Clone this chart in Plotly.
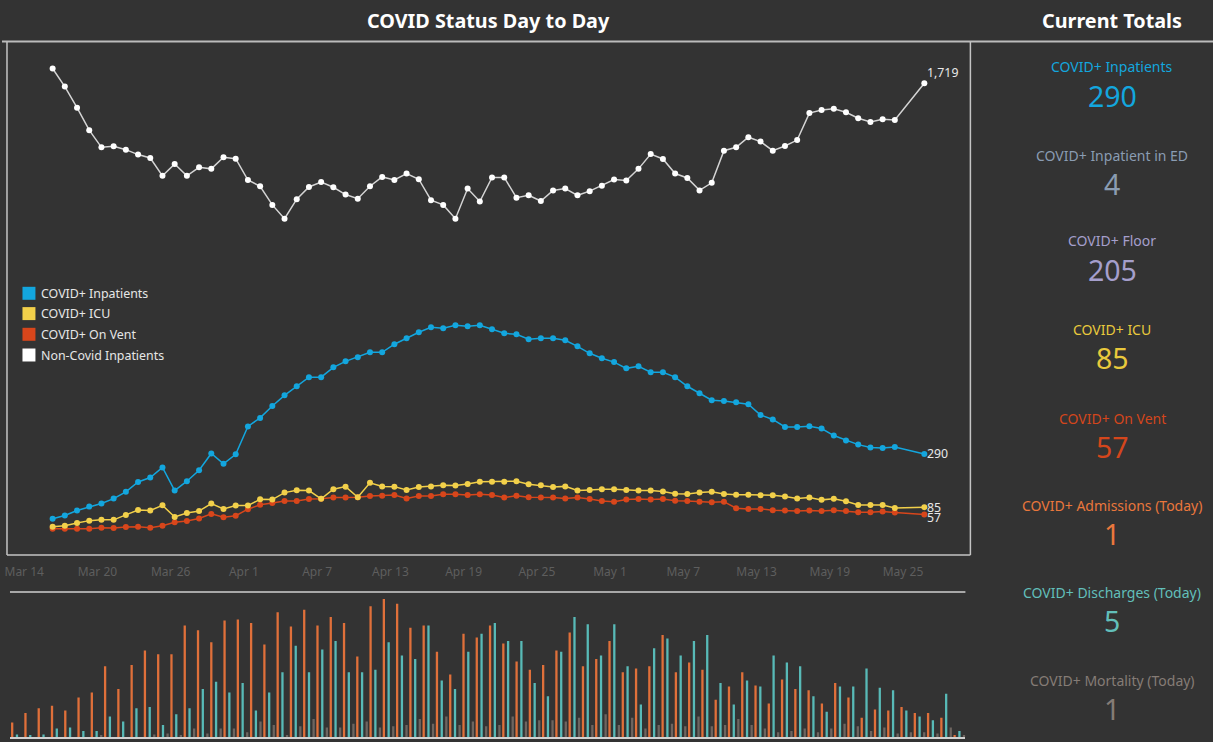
import plotly.graph_objects as go
import pandas as pd

# ---------------- DATA ----------------
line_dates = [d.strftime("%Y-%m-%d") for d in pd.date_range("2020-03-16", "2020-05-24")] + ["2020-05-26 10:00"]

non_covid = [1776, 1706, 1625, 1538, 1472, 1476, 1463, 1444, 1431, 1362,
             1408, 1362, 1395, 1389, 1434, 1428, 1346, 1322, 1250, 1197,
             1272, 1319, 1338, 1318, 1290, 1274, 1322, 1358, 1346, 1371,
             1349, 1268, 1250, 1197, 1313, 1263, 1356, 1356, 1278, 1287,
             1265, 1306, 1313, 1287, 1303, 1324, 1348, 1344, 1389, 1446,
             1427, 1371, 1354, 1306, 1335, 1459, 1472, 1511, 1494, 1459,
             1477, 1500, 1604, 1616, 1621, 1607, 1584, 1570, 1580, 1577, 1719]

inpatients = [40, 53, 72, 87, 99, 118, 144, 182, 199, 238,
              149, 185, 227, 292, 252, 289, 396, 429, 475, 516,
              551, 586, 586, 624, 647, 663, 682, 682, 713, 736,
              759, 778, 775, 786, 782, 786, 771, 755, 751, 732,
              736, 736, 728, 705, 678, 659, 644, 620, 628, 605,
              605, 586, 551, 524, 497, 494, 489, 482, 440, 423,
              394, 394, 397, 388, 361, 342, 326, 315, 313, 317, 290]

icu = [9, 13, 24, 33, 36, 36, 55, 74, 72, 92,
       47, 62, 70, 99, 78, 91, 91, 115, 114, 141,
       150, 149, 117, 154, 164, 123, 179, 165, 164, 151,
       163, 165, 169, 168, 174, 183, 183, 183, 185, 173,
       169, 163, 165, 149, 151, 154, 154, 151, 149, 149,
       145, 137, 136, 141, 144, 136, 133, 133, 131, 131,
       126, 118, 122, 113, 117, 108, 93, 93, 93, 82, 85]

on_vent = [2, 2, 2, 2, 6, 5, 8, 9, 6, 13,
           27, 32, 41, 59, 46, 52, 77, 94, 101, 109,
           109, 116, 117, 122, 122, 123, 128, 129, 132, 118,
           128, 128, 135, 135, 132, 135, 132, 122, 129, 123,
           122, 122, 118, 122, 116, 109, 106, 114, 116, 114,
           116, 110, 109, 106, 104, 106, 81, 78, 78, 73,
           72, 70, 72, 70, 73, 70, 65, 65, 68, 64, 57]

bar_dates = [d.strftime("%Y-%m-%d") for d in pd.date_range("2020-03-16", "2020-05-26")]

admissions = [12, 20, 24, 26, 22, 33, 37, 59, 40, 60,
              72, 69, 69, 93, 89, 79, 97, 98, 95, 77,
              104, 92, 106, 93, 100, 95, 67, 109, 115, 111,
              91, 93, 71, 52, 86, 83, 93, 78, 63, 56,
              60, 72, 87, 59, 65, 80, 54, 57, 59, 85,
              54, 62, 56, 31, 42, 54, 43, 28, 48, 40,
              39, 28, 45, 33, 16, 23, 22, 25, 20, 20, 16, 1]

discharges = [2, 1, 2, 7, 8, 5, 5, 17, 13, 24,
              25, 10, 19, 24, 40, 46, 37, 45, 22, 37,
              54, 76, 54, 73, 80, 54, 54, 56, 79, 68,
              65, 93, 47, 40, 71, 86, 95, 80, 80, 45,
              34, 71, 100, 94, 68, 94, 59, 27, 74, 82,
              68, 80, 85, 45, 27, 47, 42, 68, 62, 59,
              34, 21, 42, 42, 57, 41, 39, 22, 17, 14, 36, 5]

mortality = [0, 0, 0, 0, 0, 0, 1, 0, 0, 0,
             2, 3, 1, 7, 3, 7, 7, 4, 13, 10,
             1, 9, 15, 8, 8, 11, 13, 8, 9, 10,
             15, 11, 17, 10, 13, 9, 10, 17, 13, 14,
             14, 13, 16, 10, 19, 10, 16, 7, 10, 11,
             9, 17, 9, 10, 15, 10, 7, 4, 5, 7,
             4, 7, 11, 9, 5, 8, 3, 4, 4, 3, 8, 1]

legend_names = ["COVID+ Inpatients", "COVID+ ICU", "COVID+ On Vent", "Non-Covid Inpatients"]

kpi_labels = ["COVID+ Inpatients", "COVID+ Inpatient in ED", "COVID+ Floor", "COVID+ ICU",
              "COVID+ On Vent", "COVID+ Admissions (Today)", "COVID+ Discharges (Today)",
              "COVID+ Mortality (Today)"]
kpi_values = [290, 4, 205, 85, 57, 1, 5, 1]

# ---------------- STYLE ----------------
BG = "#333333"
C_BLUE = "#13a6de"
C_YEL = "#f2d04a"
C_RED = "#d8461b"
C_WHITE = "#ffffff"
C_ORANGE = "#e0703a"
C_TEAL = "#58bab7"
C_GRAY = "#6e6560"
kpi_colors = [C_BLUE, "#8a9cb2", "#a59fcc", "#e9c93c", "#d4461c", "#ea773c", "#62bfba", "#857c76"]
FONT = "Noto Sans"

W, H = 1213, 742
def px(x):
    return x / W
def py(y):
    return 1 - y / H

fig = go.Figure()

# line chart
series = [(on_vent, C_RED, C_RED, -3), (icu, C_YEL, C_YEL, 0), (inpatients, C_BLUE, C_BLUE, 0),
          (non_covid, "#d4d4d4", C_WHITE, 11)]
for vals, lc, mc, _ in series:
    fig.add_trace(go.Scatter(
        x=line_dates, y=vals, mode="lines+markers",
        line=dict(color=lc, width=1.5), marker=dict(color=mc, size=6),
        xaxis="x", yaxis="y", showlegend=False, hoverinfo="x+y",
        cliponaxis=False))

# bar chart
day_ms = 86400000
bpx = 13.296
ms_px = day_ms / bpx
bw = 2.3 * ms_px
for vals, col, shift in [(admissions, C_ORANGE, -4.8), (discharges, C_TEAL, 0.0), (mortality, C_GRAY, 4.6)]:
    fig.add_trace(go.Bar(
        x=bar_dates, y=vals, xaxis="x2", yaxis="y2",
        width=bw, offset=(shift - 1.15) * ms_px,
        marker=dict(color=col, line=dict(width=0)), showlegend=False))

# axes ranges
t0 = pd.Timestamp("2020-03-16")
lpx = 12.226
x_start = t0 + pd.Timedelta(days=(5 - 50.7) / lpx)
x_end = t0 + pd.Timedelta(days=(970 - 50.7) / lpx)
b_start = t0 + pd.Timedelta(days=(8 - 15) / bpx)
b_end = t0 + pd.Timedelta(days=(965 - 15) / bpx)

fig.update_layout(
    width=W, height=H,
    margin=dict(l=0, r=0, t=0, b=0),
    paper_bgcolor=BG, plot_bgcolor=BG,
    font=dict(family=FONT, color="#ffffff"),
    barmode="overlay",
    showlegend=False,
    xaxis=dict(domain=[px(5), px(970)], type="date",
               range=[x_start.strftime("%Y-%m-%d %H:%M:%S"), x_end.strftime("%Y-%m-%d %H:%M:%S")],
               tick0="2020-03-14", dtick=6 * day_ms, tickformat="%b %-d",
               ticks="outside", ticklen=6, tickcolor=BG, ticklabelshift=-4,
               tickfont=dict(color="#5e5e5e", size=12, family=FONT),
               showgrid=False, zeroline=False, showline=False, anchor="y"),
    yaxis=dict(domain=[py(555), py(42)], range=[-99.5, 1878], visible=False, anchor="x"),
    xaxis2=dict(domain=[px(8), px(965)], type="date",
                range=[b_start.strftime("%Y-%m-%d %H:%M:%S"), b_end.strftime("%Y-%m-%d %H:%M:%S")],
                showticklabels=False, showgrid=False, zeroline=False,
                showline=True, linecolor="#d0d0d0", linewidth=1.5, anchor="y2", ticks=""),
    yaxis2=dict(domain=[py(737), py(592)], range=[0, 145 / 1.2], visible=False, anchor="x2"),
)

shapes = []
# header line
shapes.append(dict(type="line", xref="paper", yref="paper", x0=0, x1=1, y0=py(41.5), y1=py(41.5),
                   line=dict(color="#bcbcbc", width=2)))
# line-chart frame (left, right, bottom)
for x0, y0, x1, y1 in [(5, 42, 5, 555), (970, 42, 970, 555), (5, 555, 970, 555)]:
    shapes.append(dict(type="line", xref="paper", yref="paper", x0=px(x0), x1=px(x1), y0=py(y0), y1=py(y1),
                       line=dict(color="#c4c4c4", width=1.5)))
# bar chart top reference line
shapes.append(dict(type="line", xref="paper", yref="paper", x0=px(8), x1=px(965), y0=py(592), y1=py(592),
                   line=dict(color="#a8a8a8", width=2)))

annotations = []
# end-of-line value labels
for vals, _, _, ysh in series:
    annotations.append(dict(text=f"{vals[-1]:,}", x=line_dates[-1], y=vals[-1], xref="x", yref="y",
                            showarrow=False, xanchor="left", yanchor="middle", xshift=1, yshift=ysh,
                            font=dict(size=12.3, color="#e8e8e8", family=FONT)))

# titles
annotations.append(dict(text="<b>COVID Status Day to Day</b>", x=px(487), y=py(20), xref="paper", yref="paper",
                        showarrow=False, font=dict(size=19.8, color="#ffffff", family=FONT), xanchor="center", yanchor="middle"))
annotations.append(dict(text="<b>Current Totals</b>", x=px(1112), y=py(20), xref="paper", yref="paper",
                        showarrow=False, font=dict(size=19.8, color="#ffffff", family=FONT), xanchor="center", yanchor="middle"))

# legend
legend_colors = [C_BLUE, C_YEL, C_RED, C_WHITE]
row_y = [293.3, 313.6, 334.3, 355.0]
for name, col, yy in zip(legend_names, legend_colors, row_y):
    shapes.append(dict(type="rect", xref="paper", yref="paper", x0=px(20.5), x1=px(33.5), y0=py(yy + 6.5), y1=py(yy - 6.5),
                       fillcolor=col, line=dict(width=0)))
    annotations.append(dict(text=name, x=px(37.5), y=py(yy), xref="paper", yref="paper", showarrow=False,
                            xanchor="left", yanchor="middle", font=dict(size=12.4, color="#e6e6e6", family=FONT)))

# KPI panel
label_y = [67, 155, 241, 329, 418, 505, 592, 680]
for lab, val, col, yy in zip(kpi_labels, kpi_values, kpi_colors, label_y):
    annotations.append(dict(text=lab, x=px(1112), y=py(yy), xref="paper", yref="paper", showarrow=False,
                            xanchor="center", yanchor="middle", font=dict(size=14, color=col, family=FONT)))
    annotations.append(dict(text=f"{val:,}", x=px(1112), y=py(yy + 29), xref="paper", yref="paper", showarrow=False,
                            xanchor="center", yanchor="middle", font=dict(size=28.5, color=col, family=FONT)))

fig.update_layout(shapes=shapes, annotations=annotations)
fig.write_html("out.html", config={"displayModeBar": False},
               post_script="document.body.style.margin='0';document.body.style.background='#333333';")
